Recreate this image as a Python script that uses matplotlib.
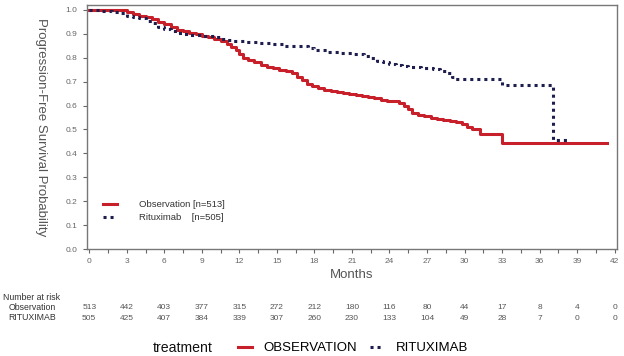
import matplotlib
matplotlib.use("Agg")
import matplotlib.pyplot as plt
from matplotlib.lines import Line2D

plt.rcParams["font.family"] = ["Liberation Sans", "DejaVu Sans"]

# Kaplan-Meier step curves (months, survival probability)
obs_t = [0, 1, 2, 2.5, 3, 3.5, 4, 4.5, 5, 5.5, 6, 6.5, 7, 7.5, 8, 8.5, 9, 9.5, 10,
         10.5, 11, 11.3, 11.7, 12, 12.3, 12.7, 13.2, 13.7, 14.2, 14.7, 15.2, 15.7,
         16.2, 16.6, 17, 17.4, 17.8, 18.3, 18.8, 19.3, 19.8, 20.3, 20.8, 21.3,
         21.8, 22.3, 22.8, 23.3, 23.8, 24.3, 24.8, 25.2, 25.5, 25.8, 26.3, 26.8,
         27.3, 27.8, 28.3, 28.8, 29.3, 29.8, 30.2, 30.6, 31.2, 33.0, 41.4]
obs_s = [1.0, 1.0, 1.0, 0.997, 0.99, 0.983, 0.975, 0.968, 0.96, 0.95, 0.94, 0.928,
         0.915, 0.91, 0.905, 0.898, 0.89, 0.885, 0.88, 0.87, 0.855, 0.845, 0.83,
         0.815, 0.80, 0.79, 0.78, 0.77, 0.762, 0.755, 0.75, 0.745, 0.735, 0.72,
         0.705, 0.69, 0.68, 0.672, 0.667, 0.662, 0.657, 0.652, 0.647, 0.642, 0.638,
         0.634, 0.63, 0.625, 0.62, 0.617, 0.612, 0.60, 0.585, 0.57, 0.562, 0.556,
         0.55, 0.545, 0.54, 0.535, 0.53, 0.525, 0.51, 0.50, 0.48, 0.445, 0.445]

rit_t = [0, 1, 1.8, 2.5, 3, 3.5, 4, 4.5, 5, 5.5, 6, 6.5, 7, 7.5, 8, 9, 9.5, 10,
         10.5, 11, 11.5, 12.5, 13.5, 14.5, 15.5, 16.5, 17.5, 18, 19, 20, 21, 22,
         22.5, 23, 23.5, 24, 24.5, 25, 25.5, 26.5, 27.5, 28, 28.5, 29, 29.2, 33,
         37.1, 38.2]
rit_s = [0.997, 0.995, 0.99, 0.985, 0.975, 0.97, 0.965, 0.955, 0.945, 0.93, 0.918,
         0.91, 0.903, 0.898, 0.895, 0.892, 0.89, 0.887, 0.88, 0.875, 0.87, 0.865,
         0.86, 0.855, 0.85, 0.847, 0.84, 0.832, 0.825, 0.82, 0.815, 0.808, 0.798,
         0.788, 0.78, 0.775, 0.77, 0.765, 0.76, 0.757, 0.752, 0.745, 0.735, 0.72,
         0.71, 0.685, 0.455, 0.455]

risk_times = [0, 3, 6, 9, 12, 15, 18, 21, 24, 27, 30, 33, 36, 39, 42]
risk_obs = [513, 442, 403, 377, 315, 272, 212, 180, 116, 80, 44, 17, 8, 4, 0]
risk_rit = [505, 425, 407, 384, 339, 307, 260, 230, 133, 104, 49, 28, 7, 0, 0]

red = "#c8202a"
navy = "#1e1e4e"
gray = "#555555"
dots = (0, (1, 1.3))

fig = plt.figure(figsize=(6.24, 3.56), dpi=100)
ax = fig.add_axes([0.139, 0.300, 0.850, 0.686])

ax.plot(obs_t, obs_s, drawstyle="steps-post", color=red, lw=2.2,
        label="Observation [n=513]")
ax.plot(rit_t, rit_s, drawstyle="steps-post", color=navy, lw=2.2,
        linestyle=dots, label="Rituximab    [n=505]")

ax.set_xlim(-0.2, 42.2)
ax.set_ylim(0, 1.02)
ax.set_xticks(risk_times)
ax.set_xticks([t + 1.5 for t in risk_times[:-1]], minor=True)
ax.set_yticks([i / 10 for i in range(11)])
ax.set_yticklabels([f"{i / 10:.1f}" for i in range(11)])
ax.tick_params(axis="both", labelsize=6, colors="#666666", length=3, width=0.8)
ax.tick_params(axis="x", which="minor", length=3, width=0.8, colors="#666666")
for sp in ax.spines.values():
    sp.set_color("#777777")
    sp.set_linewidth(1)

ax.set_xlabel("Months", fontsize=9.5, color=gray, labelpad=3)
ax.set_ylabel("Progression-Free Survival Probability", fontsize=9.5, color=gray,
              rotation=270)
ax.yaxis.set_label_coords(-0.098, 0.5)

leg = ax.legend(loc="lower left", bbox_to_anchor=(0.015, 0.075), frameon=False,
                fontsize=6.8, handlelength=1.5, handletextpad=2.3, labelspacing=0.45)
for t in leg.get_texts():
    t.set_color("#333333")

# number at risk table
fig.text(0.005, 1 - 297 / 356, "Number at risk", fontsize=6.3, color="#333333",
         va="center")
fig.text(0.090, 1 - 307 / 356, "Observation", fontsize=6.3, color="#333333",
         va="center", ha="right")
fig.text(0.090, 1 - 318 / 356, "RITUXIMAB", fontsize=6.3, color="#333333",
         va="center", ha="right")
for t, a, b in zip(risk_times, risk_obs, risk_rit):
    ax.annotate(str(a), (t, 0), xycoords=("data", "axes fraction"),
                xytext=(0, -42), textcoords="offset points", ha="center",
                va="center", fontsize=6, color=gray, annotation_clip=False)
    ax.annotate(str(b), (t, 0), xycoords=("data", "axes fraction"),
                xytext=(0, -50), textcoords="offset points", ha="center",
                va="center", fontsize=6, color=gray, annotation_clip=False)

# bottom legend
handles = [Line2D([], [], color=red, lw=2.2),
           Line2D([], [], color=navy, lw=2.2, linestyle=dots)]
fig.text(0.245, 1 - 348 / 356, "treatment", fontsize=10.2, color="#111111",
         va="center")
fig.legend(handles, ["OBSERVATION", "RITUXIMAB"], loc="center left",
           bbox_to_anchor=(0.362, 1 - 348 / 356), ncol=2, frameon=False,
           fontsize=9.5, handlelength=1.05, columnspacing=1.0, handletextpad=0.9)

fig.savefig("out.png", dpi=100)
